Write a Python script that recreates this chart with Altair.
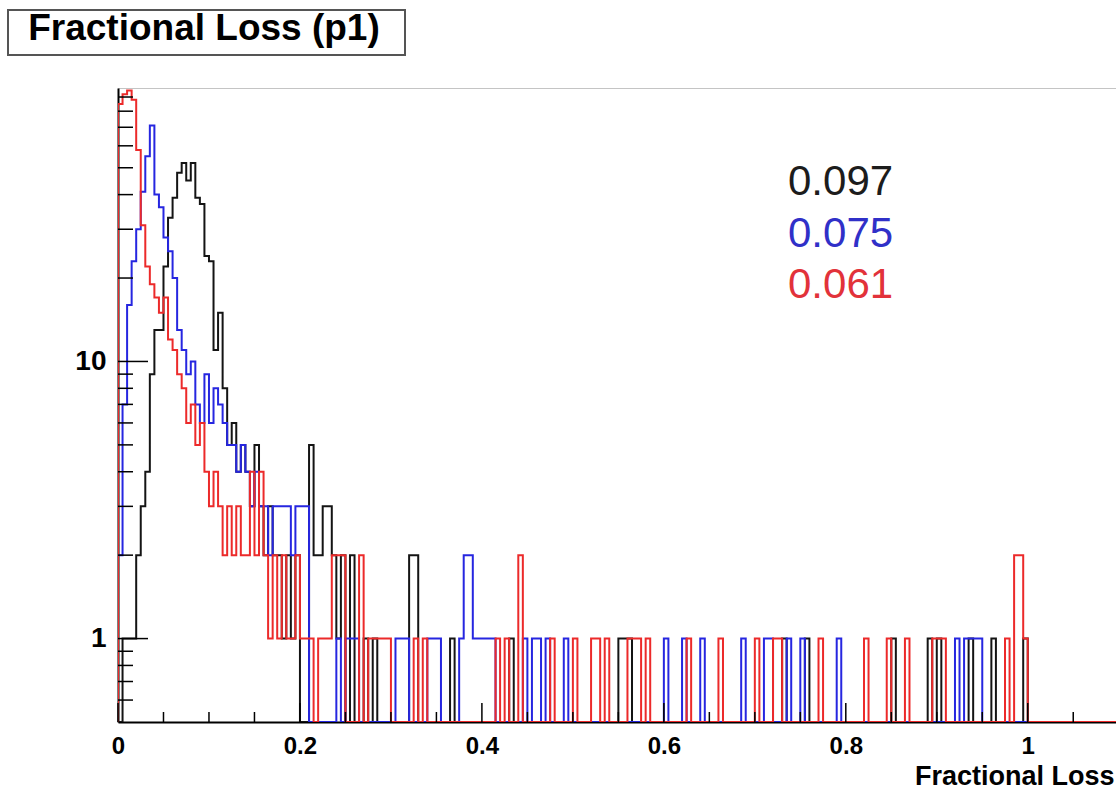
import altair as alt
import pandas as pd

# Histogram binning (fractional loss, 0.005 wide bins)
BIN_WIDTH = 0.005
N_BINS = 220
X_MAX = 1.097
Y_MIN, Y_MAX = 0.5, 97

# Counts of the first 40 bins (0 - 0.2)
black_core = [0, 1, 1, 1, 2, 3, 4, 9, 13, 13, 22, 33, 39, 48, 52, 45, 52, 39, 37, 24,
              23, 11, 15, 8, 5, 6, 4, 5, 4, 3, 5, 3, 2, 3, 2, 2, 1, 2, 1, 2]
blue_core = [2, 7, 16, 23, 30, 41, 55, 71, 40, 36, 28, 25, 20, 13, 11, 9, 10, 7, 6, 9,
             6, 8, 7, 6, 5, 5, 4, 5, 4, 3, 4, 3, 3, 2, 3, 3, 3, 3, 2, 3]
red_core = [85, 92, 95, 88, 58, 31, 22, 19, 17, 15, 17, 12, 11, 9, 8, 6, 7, 5, 6, 4,
            3, 4, 3, 2, 3, 2, 3, 2, 2, 4, 2, 4, 2, 1, 2, 1, 2, 1, 1, 2]

# Sparse tail beyond 0.2: bin index -> count
black_tail = {42: 5, 43: 2, 44: 2, 45: 3, 46: 3, 47: 2, 48: 1, 49: 2, 51: 2, 54: 1,
              56: 1, 64: 2, 65: 2, 73: 1, 86: 1, 110: 1, 111: 1, 112: 1, 146: 1,
              151: 1, 170: 1, 178: 1, 180: 1, 187: 1, 192: 1, 199: 1}
blue_tail = {40: 3, 41: 3, 48: 1, 50: 1, 51: 1, 52: 1, 61: 1, 62: 1, 63: 1, 68: 1,
             69: 1, 70: 1, 75: 1, 76: 2, 77: 2, 78: 1, 79: 1, 80: 1, 81: 1, 82: 1,
             89: 1, 91: 1, 92: 1, 94: 1, 98: 1, 120: 1, 124: 1, 128: 1, 137: 1,
             142: 1, 143: 1, 147: 1, 150: 1, 158: 1, 184: 1, 186: 1, 187: 1, 188: 1,
             189: 1}
red_tail = {40: 1, 41: 1, 42: 1, 44: 1, 45: 1, 46: 1, 47: 2, 48: 2, 49: 2, 53: 2,
            55: 1, 56: 1, 57: 1, 58: 1, 59: 1, 65: 1, 67: 1, 83: 1, 85: 1, 88: 2,
            95: 1, 100: 1, 104: 1, 105: 1, 107: 1, 112: 1, 113: 1, 114: 1, 116: 1,
            125: 1, 132: 1, 140: 1, 144: 1, 145: 1, 154: 1, 164: 1, 169: 1, 173: 1,
            179: 1, 180: 1, 181: 1, 195: 1, 197: 2, 198: 2, 199: 1}

series_names = ["p1 black", "p1 blue", "p1 red"]
series_colors = ["#141414", "#2626e0", "#ec2a2a"]
mean_labels = ["0.097", "0.075", "0.061"]
label_colors = ["#1c1c1c", "#3030c8", "#e2323a"]

title_text = "Fractional Loss (p1)"
x_title = "Fractional Loss"
x_label_values = [0, 0.2, 0.4, 0.6, 0.8, 1.0]
x_minor_values = [0.05, 0.1, 0.15, 0.25, 0.3, 0.35, 0.45, 0.5, 0.55, 0.65, 0.7, 0.75,
                  0.85, 0.9, 0.95, 1.05]
y_label_values = [1, 10]
y_minor_values = [0.6, 0.7, 0.8, 0.9, 2, 3, 4, 5, 6, 7, 8, 9,
                  20, 30, 40, 50, 60, 70, 80, 90]

FONT = "Liberation Sans"

xscale = alt.Scale(domain=[0, X_MAX], nice=False, zero=False)
yscale = alt.Scale(type="log", domain=[Y_MIN, Y_MAX], nice=False)

x_axis = alt.Axis(
    values=x_label_values, format="~g", ticks=False, grid=False,
    domainColor="black", domainWidth=2, labelFont=FONT, labelFontSize=24,
    labelFontWeight="bold", labelColor="black", labelPadding=12,
    labelFlush=False, labelOverlap=False,
    title=x_title, titleFont=FONT, titleFontSize=27, titleFontWeight="bold",
    titleColor="black", titleAnchor="end", titleAlign="right",
    titleX=996, titleY=62, titleBaseline="alphabetic",
)
y_axis = alt.Axis(
    values=y_label_values, format="~g", ticks=False, grid=False,
    domainColor="black", domainWidth=2, labelFont=FONT, labelFontSize=28,
    labelFontWeight="bold", labelColor="black", labelPadding=12,
    labelFlush=False, labelOverlap=False, title="",
)


def full_counts(core, tail):
    counts = [0] * N_BINS
    for i, c in enumerate(core):
        counts[i] = c
    for i, c in tail.items():
        counts[i] = c
    return counts


def step_frame(counts):
    # outline of the histogram; empty bins sit on the bottom of the frame
    xs = [0.0]
    ys = [Y_MIN]
    for i, c in enumerate(counts):
        xs.append(i * BIN_WIDTH)
        ys.append(c if c > 0 else Y_MIN)
    xs.append(N_BINS * BIN_WIDTH)
    ys.append(ys[-1])
    return pd.DataFrame({"x": xs, "count": ys, "seq": range(len(xs))})


all_counts = [
    full_counts(black_core, black_tail),
    full_counts(blue_core, blue_tail),
    full_counts(red_core, red_tail),
]

layers = []

# title box
title_df = pd.DataFrame({"t": [title_text]})
layers.append(
    alt.Chart(title_df).mark_rect(fill="white", stroke="#555555", strokeWidth=2).encode(
        x=alt.value(-110), x2=alt.value(287), y=alt.value(-78), y2=alt.value(-33)
    )
)
layers.append(
    alt.Chart(title_df).mark_text(
        font=FONT, fontSize=37, fontWeight="bold", color="black",
        align="center", baseline="alphabetic"
    ).encode(x=alt.value(86), y=alt.value(-48), text="t:N")
)

# histograms, drawn black, blue, red
for name, color, counts in zip(series_names, series_colors, all_counts):
    df = step_frame(counts)
    layers.append(
        alt.Chart(df).mark_line(
            interpolate="step-after", color=color, strokeWidth=2, clip=True
        ).encode(
            x=alt.X("x:Q", scale=xscale, axis=x_axis),
            y=alt.Y("count:Q", scale=yscale, axis=y_axis),
            order="seq:Q",
        )
    )

# inward tick marks
layers.append(
    alt.Chart(pd.DataFrame({"v": y_label_values})).mark_rule(color="black", strokeWidth=1.5).encode(
        y=alt.Y("v:Q", scale=yscale, axis=y_axis), x=alt.value(0), x2=alt.value(30)
    )
)
layers.append(
    alt.Chart(pd.DataFrame({"v": y_minor_values})).mark_rule(color="black", strokeWidth=1.5).encode(
        y=alt.Y("v:Q", scale=yscale, axis=y_axis), x=alt.value(0), x2=alt.value(15)
    )
)
layers.append(
    alt.Chart(pd.DataFrame({"v": x_label_values})).mark_rule(color="black", strokeWidth=1.5).encode(
        x=alt.X("v:Q", scale=xscale, axis=x_axis), y=alt.value(634), y2=alt.value(615)
    )
)
layers.append(
    alt.Chart(pd.DataFrame({"v": x_minor_values})).mark_rule(color="black", strokeWidth=1.5).encode(
        x=alt.X("v:Q", scale=xscale, axis=x_axis), y=alt.value(634), y2=alt.value(624)
    )
)

# mean values
for label, color, ypos in zip(mean_labels, label_colors, [107, 159, 210]):
    layers.append(
        alt.Chart(pd.DataFrame({"m": [label]})).mark_text(
            font=FONT, fontSize=42, color=color, align="left", baseline="alphabetic"
        ).encode(x=alt.value(670), y=alt.value(ypos), text="m:N")
    )

chart = alt.layer(*layers).properties(
    width=998,
    height=634,
    padding={"left": 118, "top": 88, "right": 0, "bottom": 67},
    autosize=alt.AutoSizeParams(type="none"),
    background="white",
).configure_view(stroke="#c4c4c4", strokeWidth=1)

chart.save("out.html", embed_options={"renderer": "svg", "actions": False})
